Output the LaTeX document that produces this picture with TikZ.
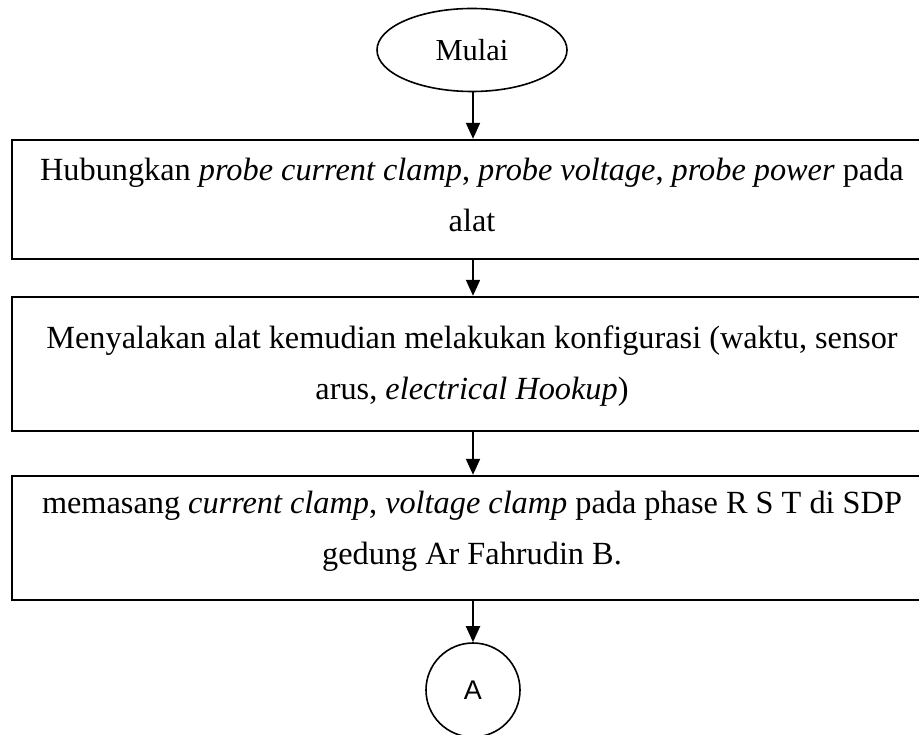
\documentclass[tikz,border=0pt]{standalone}
\usepackage{fontspec}
\setmainfont{Liberation Serif}
\newfontfamily\sansA{Liberation Sans}
\usetikzlibrary{arrows.meta,shapes.geometric}
\tikzset{
  stepbox/.style={draw=black, line width=2.4pt, rectangle, minimum width=919pt, inner sep=0pt},
  lbl/.style={anchor=base, inner sep=0pt, font=\fontsize{32.3}{38}\selectfont},
  flow/.style={draw=black, line width=2pt, -{Triangle[length=16pt,width=14pt]}},
  term/.style={draw=black, line width=1.6pt, ellipse, minimum width=190pt, minimum height=83pt, inner sep=0pt, font=\fontsize{30.5}{36}\selectfont},
  conn/.style={draw=black, line width=1.6pt, circle, minimum size=94pt, inner sep=0pt, font=\sansA\fontsize{27}{32}\selectfont}
}
\begin{document}
\begin{tikzpicture}[x=1pt,y=-1pt]
\useasboundingbox (0,0) rectangle (919,735);
\clip (0,0) rectangle (919,735);
\node[term] (start) at (472,50) {Mulai};
\node[stepbox, minimum height=119pt] (b1) at (471.5,199.5) {};
\node[lbl] (b1a) at (472,181) {Hubungkan \textit{probe current clamp}, \textit{probe voltage}, \textit{probe power} pada};
\node[lbl] (b1b) at (472,232) {alat};
\node[stepbox, minimum height=134pt] (b2) at (471.5,364) {};
\node[lbl] (b2a) at (472,349) {Menyalakan alat kemudian melakukan konfigurasi (waktu, sensor};
\node[lbl] (b2b) at (472,400) {arus, \textit{electrical Hookup})};
\node[stepbox, minimum height=124pt] (b3) at (471.5,538) {};
\node[lbl] (b3a) at (472,513) {memasang \textit{current clamp}, \textit{voltage clamp} pada phase R S T di SDP};
\node[lbl] (b3b) at (472,564) {gedung Ar Fahrudin B.};
\node[conn] (A) at (473,690) {A};
\draw[flow] (start.south -| 473,0) -- (b1.north -| 473,0);
\draw[flow] (b1.south -| 473,0) -- (b2.north -| 473,0);
\draw[flow] (b2.south -| 473,0) -- (b3.north -| 473,0);
\draw[flow] (b3.south -| 473,0) -- (A.north);
\end{tikzpicture}
\end{document}
